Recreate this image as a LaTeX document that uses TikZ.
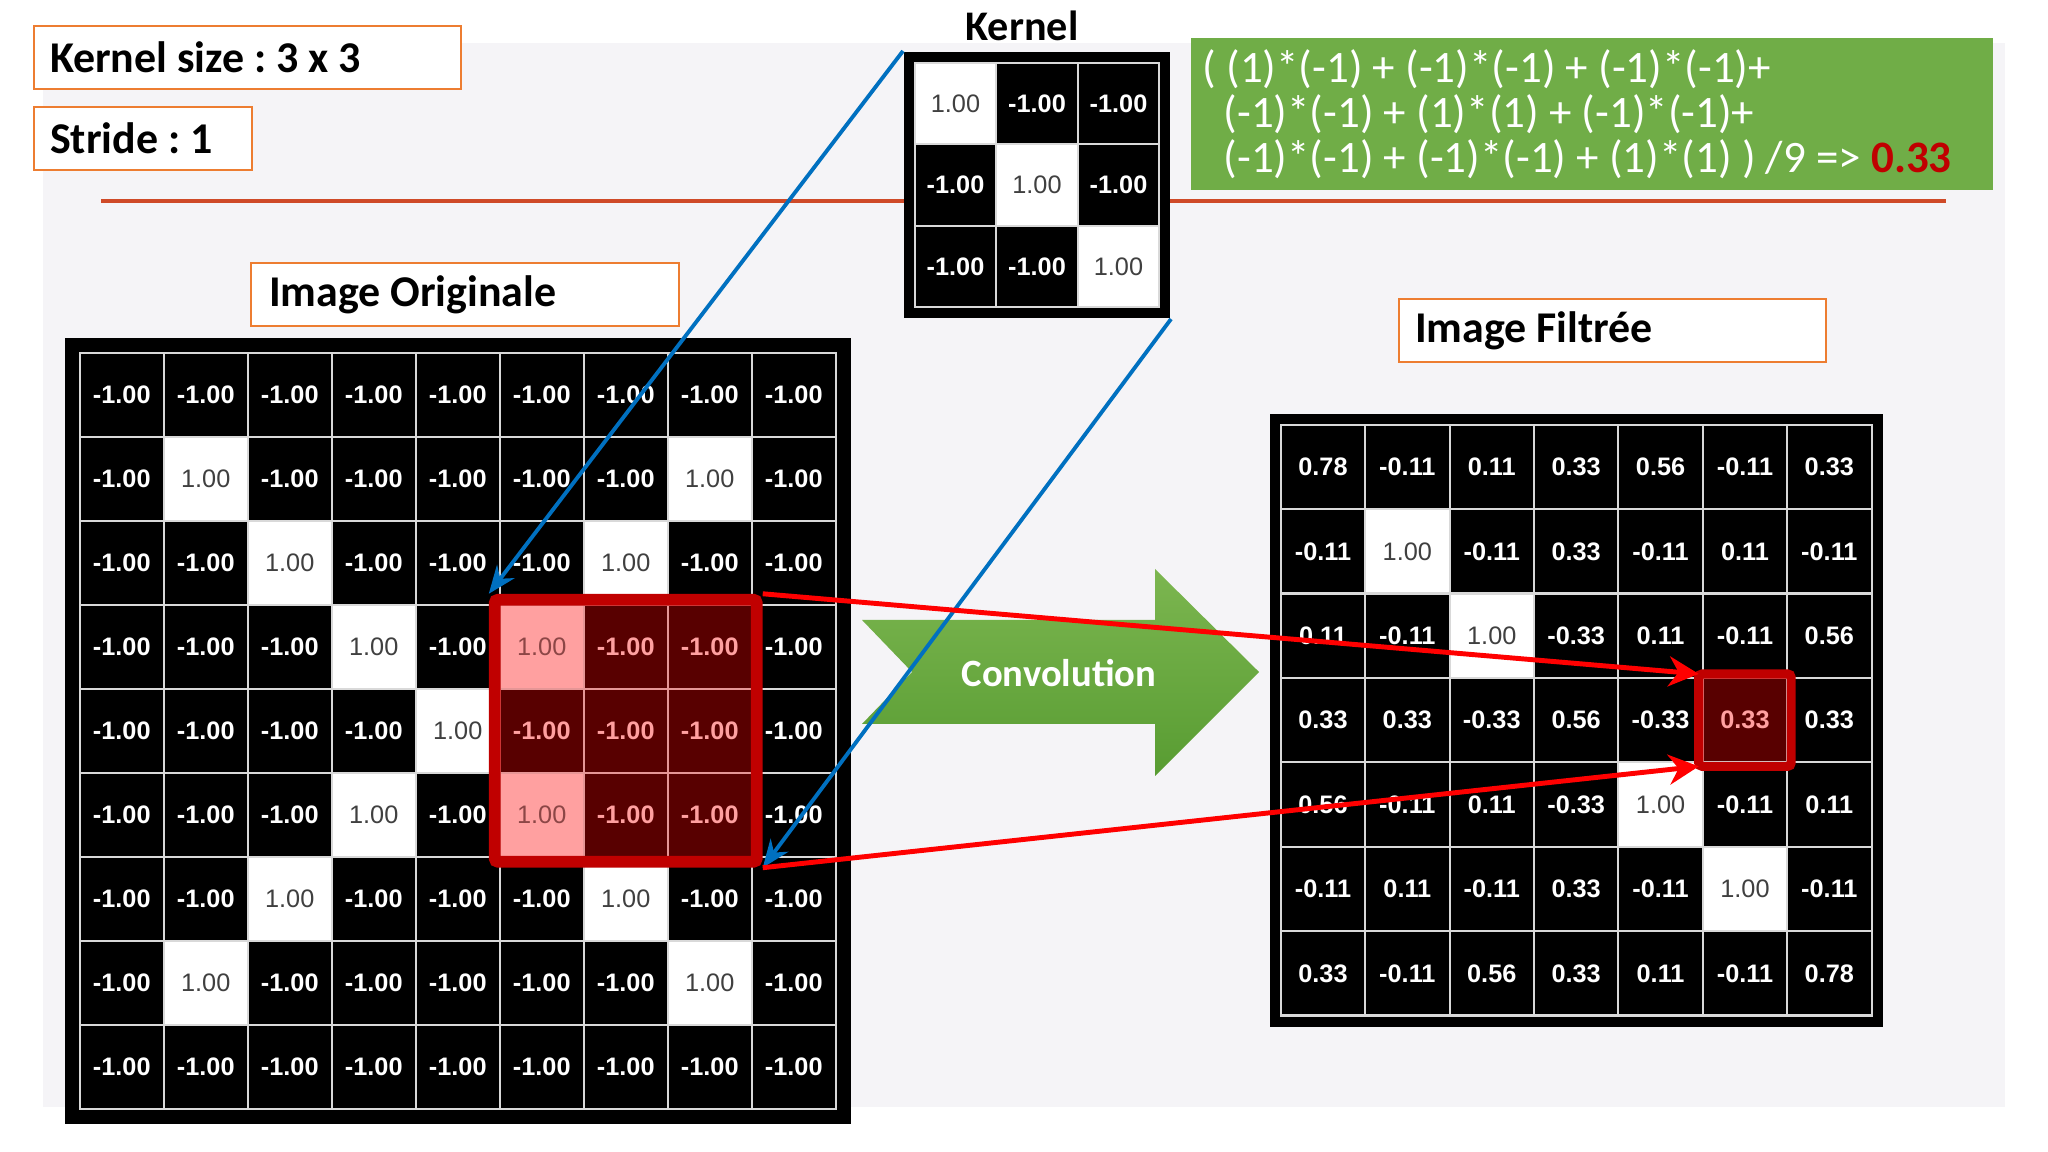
\documentclass[tikz,border=0pt]{standalone}
\usepackage{fontspec}
\setmainfont{Carlito}
\newfontfamily\numfont{Liberation Sans}
\usetikzlibrary{arrows.meta,matrix,positioning,fit}

\definecolor{panelgray}{RGB}{245,244,247}
\definecolor{boxorange}{RGB}{237,125,49}
\definecolor{rulered}{RGB}{207,74,40}
\definecolor{calcgreen}{RGB}{112,173,71}
\definecolor{convtop}{RGB}{124,182,80}
\definecolor{convbot}{RGB}{88,156,50}
\definecolor{resred}{RGB}{192,0,0}
\definecolor{linkblue}{RGB}{0,112,192}
\definecolor{hllight}{RGB}{255,160,160}
\definecolor{hldark}{RGB}{88,0,0}
\definecolor{hltext}{RGB}{140,70,70}
\definecolor{hlline}{RGB}{230,150,150}
\definecolor{numgray}{RGB}{64,64,64}

\tikzset{
  labelbox/.style={draw=boxorange, line width=0.6pt, fill=white,
    anchor=north west, inner xsep=1.6mm, inner ysep=0pt, minimum height=6.3mm,
    align=flush left, font=\frenchspacing\fontsize{12.5}{15}\selectfont\bfseries},
  grid/.style={matrix of nodes, fill=black, column sep=-0.6pt, row sep=-0.6pt,
    anchor=north west},
  blk/.style={draw=white!85!black, line width=0.6pt, fill=black, text=white,
    font=\numfont\bfseries\fontsize{7.2}{8}\selectfont,
    inner sep=0pt, outer sep=0pt, anchor=center},
  wht/.style={fill=white, text=numgray, font=\numfont\fontsize{7.2}{8}\selectfont},
  hlw/.style={fill=hllight, text=hltext, draw=hlline,
    font=\numfont\fontsize{7.2}{8}\selectfont},
  hlb/.style={fill=hldark, text=hllight, draw=hlline},
  bluelink/.style={draw=linkblue, line width=1.1pt,
    -{Stealth[length=2.8mm,width=2.2mm]}},
  redarrow/.style={draw=red, line width=1.4pt,
    -{Stealth[length=3mm,width=3mm]}},
}

\begin{document}
\frenchspacing
\begin{tikzpicture}[x=0.1mm,y=-0.1mm]
\useasboundingbox (0,0) rectangle (2048,1152);
\fill[panelgray] (43,43) rectangle (2005,1107);
\draw[rulered, line width=1.2pt] (101,201) -- (1946,201);

% parameters
\node (ksize) [labelbox, text width=39.5mm] at (33,25) {Kernel size : 3 x 3};
\node (stride) [labelbox, text width=18.6mm,
                below=1.6mm of ksize.south west, anchor=north west] {Stride : 1};

% kernel
\matrix (kern) [grid, inner sep=1mm, nodes={blk, minimum size=8.15mm}] at (903,51)
{
  |[wht]| 1.00 & -1.00 & -1.00 \\
  -1.00 & |[wht]| 1.00 & -1.00 \\
  -1.00 & -1.00 & |[wht]| 1.00 \\
};
\node (ktitle) [above=0.9mm of kern, xshift=-1.5mm, inner sep=0pt,
                font=\fontsize{12}{14}\selectfont\bfseries] {Kernel};

\node (calc) [fill=calcgreen, anchor=north west, minimum width=80.2mm,
              minimum height=15.2mm, text width=77.8mm, inner xsep=1.2mm,
              align=flush left, text=white, font=\frenchspacing\fontsize{12.8}{12.8}\selectfont]
  at (1190,37)
  {( (1)*(-1) + (-1)*(-1) + (-1)*(-1)+\\
   \hspace*{2.1mm}(-1)*(-1) + (1)*(1) + (-1)*(-1)+\\
   \hspace*{2.1mm}(-1)*(-1) + (-1)*(-1) + (1)*(1) ) /9 => \textcolor{resred}{\bfseries 0.33}};

% original image
\node (origtitle) [labelbox, text width=39.2mm, inner xsep=1.8mm] at (250,262) {Image Originale};
\matrix (orig) [grid, inner sep=1.4mm, nodes={blk, minimum size=8.4mm}] at (64,337)
{
  -1.00 & -1.00 & -1.00 & -1.00 & -1.00 & -1.00 & -1.00 & -1.00 & -1.00 \\
  -1.00 & |[wht]| 1.00 & -1.00 & -1.00 & -1.00 & -1.00 & -1.00 & |[wht]| 1.00 & -1.00 \\
  -1.00 & -1.00 & |[wht]| 1.00 & -1.00 & -1.00 & -1.00 & |[wht]| 1.00 & -1.00 & -1.00 \\
  -1.00 & -1.00 & -1.00 & |[wht]| 1.00 & -1.00 & |[hlw]| 1.00 & |[hlb]| -1.00 & |[hlb]| -1.00 & -1.00 \\
  -1.00 & -1.00 & -1.00 & -1.00 & |[wht]| 1.00 & |[hlb]| -1.00 & |[hlb]| -1.00 & |[hlb]| -1.00 & -1.00 \\
  -1.00 & -1.00 & -1.00 & |[wht]| 1.00 & -1.00 & |[hlw]| 1.00 & |[hlb]| -1.00 & |[hlb]| -1.00 & -1.00 \\
  -1.00 & -1.00 & |[wht]| 1.00 & -1.00 & -1.00 & -1.00 & |[wht]| 1.00 & -1.00 & -1.00 \\
  -1.00 & |[wht]| 1.00 & -1.00 & -1.00 & -1.00 & -1.00 & -1.00 & |[wht]| 1.00 & -1.00 \\
  -1.00 & -1.00 & -1.00 & -1.00 & -1.00 & -1.00 & -1.00 & -1.00 & -1.00 \\
};

% filtered image
\node (filttitle) [labelbox, text width=39.5mm] at (1398,298) {Image Filtrée};
\matrix (filt) [grid, inner sep=1mm, nodes={blk, minimum size=8.44mm}] at (1269,413)
{
  0.78 & -0.11 & 0.11 & 0.33 & 0.56 & -0.11 & 0.33 \\
  -0.11 & |[wht]| 1.00 & -0.11 & 0.33 & -0.11 & 0.11 & -0.11 \\
  0.11 & -0.11 & |[wht]| 1.00 & -0.33 & 0.11 & -0.11 & 0.56 \\
  0.33 & 0.33 & -0.33 & 0.56 & -0.33 & |[hlb]| 0.33 & 0.33 \\
  0.56 & -0.11 & 0.11 & -0.33 & |[wht]| 1.00 & -0.11 & 0.11 \\
  -0.11 & 0.11 & -0.11 & 0.33 & -0.11 & |[wht]| 1.00 & -0.11 \\
  0.33 & -0.11 & 0.56 & 0.33 & 0.11 & -0.11 & 0.78 \\
};

\node (win) [fit=(orig-4-6)(orig-6-8), draw=resred, line width=3.4pt,
             inner sep=0.5mm, rounded corners=1pt] {};
\node (res) [fit=(filt-4-6), draw=resred, line width=2.6pt,
             inner sep=0.4mm, outer sep=0pt, rounded corners=1pt] {};

% convolution arrow
\shade[top color=convtop, bottom color=convbot]
  (862,620) -- (912,672) -- (862,724) -- (1155,724) -- (1155,776)
  -- (1259,672) -- (1155,569) -- (1155,620) -- cycle;
\node (conv) [text=white, font=\fontsize{11}{13}\selectfont\bfseries] at (1059,673) {Convolution};

\draw[bluelink] (kern.north west) -- (win.north west);
\draw[bluelink] (kern.south east) -- (win.south east);
\draw[redarrow] (win.north east) -- (res.north west);
\draw[redarrow] (win.south east) -- (res.south west);
\end{tikzpicture}
\end{document}
